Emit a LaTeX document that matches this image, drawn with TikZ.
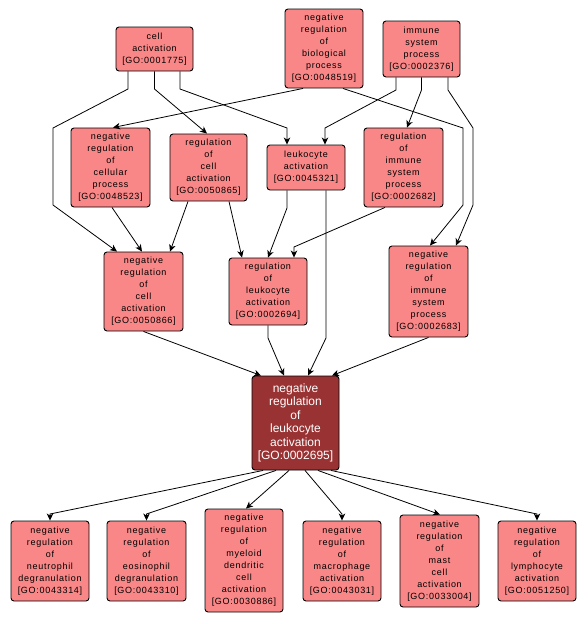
\documentclass[tikz,border=0pt]{standalone}
\usepackage{fontspec}
\setmainfont{Liberation Sans}
\newfontfamily\gofont[LetterSpace=8]{Liberation Sans}
\usetikzlibrary{arrows.meta}
\definecolor{gofill}{RGB}{250,135,135}
\definecolor{gomain}{RGB}{153,51,51}
\begin{document}
\begin{tikzpicture}[x=1pt,y=-1pt,
  gobox/.style={draw=black, line width=0.9pt, rounded corners=3pt, fill=gofill,
    align=center, inner sep=0pt, font=\gofont\fontsize{9}{12}\selectfont},
  mainbox/.style={gobox, fill=gomain, text=white, font=\fontsize{12}{13.5}\selectfont},
  sz/.style 2 args={minimum width=#1pt, minimum height=#2pt},
  goarrow/.style={draw, line width=0.8pt, -{Stealth[length=7pt,width=6.5pt,inset=2pt]}}]
\useasboundingbox (0,0) rectangle (587,624);
% top row
\node[gobox, sz={77}{44}] (ca) at (154.5,49) {cell\\activation\\{[}GO:0001775{]}};
\node[gobox, sz={78}{79}] (nbp) at (324,48.5) {negative\\regulation\\of\\biological\\process\\{[}GO:0048519{]}};
\node[gobox, sz={77}{56}] (isp) at (421.5,49) {immune\\system\\process\\{[}GO:0002376{]}};
% second row
\node[gobox, sz={79}{79}] (ncp) at (110.5,167.5) {negative\\regulation\\of\\cellular\\process\\{[}GO:0048523{]}};
\node[gobox, sz={77}{67}] (rca) at (208.5,167.5) {regulation\\of\\cell\\activation\\{[}GO:0050865{]}};
\node[gobox, sz={78}{45}] (la) at (306,167.5) {leukocyte\\activation\\{[}GO:0045321{]}};
\node[gobox, sz={79}{79}] (ris) at (403.5,167.5) {regulation\\of\\immune\\system\\process\\{[}GO:0002682{]}};
% third row
\node[gobox, sz={79}{79}] (nca) at (143.5,291.5) {negative\\regulation\\of\\cell\\activation\\{[}GO:0050866{]}};
\node[gobox, sz={78}{67}] (rla) at (268,291.5) {regulation\\of\\leukocyte\\activation\\{[}GO:0002694{]}};
\node[gobox, sz={79}{91}] (nis) at (428.5,291.5) {negative\\regulation\\of\\immune\\system\\process\\{[}GO:0002683{]}};
% main
\node[mainbox, sz={87}{94}] (main) at (295.5,423) {negative\\regulation\\of\\leukocyte\\activation\\{[}GO:0002695{]}};
% bottom row
\node[gobox, sz={78}{80}] (b1) at (50,561) {negative\\regulation\\of\\neutrophil\\degranulation\\{[}GO:0043314{]}};
\node[gobox, sz={79}{80}] (b2) at (146.5,561) {negative\\regulation\\of\\eosinophil\\degranulation\\{[}GO:0043310{]}};
\node[gobox, sz={78}{103}] (b3) at (244,560.5) {negative\\regulation\\of\\myeloid\\dendritic\\cell\\activation\\{[}GO:0030886{]}};
\node[gobox, sz={78}{80}] (b4) at (342,561) {negative\\regulation\\of\\macrophage\\activation\\{[}GO:0043031{]}};
\node[gobox, sz={79}{92}] (b5) at (439.5,561) {negative\\regulation\\of\\mast\\cell\\activation\\{[}GO:0033004{]}};
\node[gobox, sz={78}{80}] (b6) at (537,561) {negative\\regulation\\of\\lymphocyte\\activation\\{[}GO:0051250{]}};
% edges
\draw[goarrow] ([xshift=-26.5pt]ca.south) -- (128,89) -- (53,128) -- (53,205) -- ([xshift=-26.5pt]nca.north);
\draw[goarrow] (ca.south) -- (154.5,89) -- ([xshift=-1.5pt]rca.north);
\draw[goarrow] ([xshift=25.5pt]ca.south) -- (180,89) -- (287,128) -- ([xshift=-19pt]la.north);
\draw[goarrow] ([xshift=-21pt]nbp.south) -- ([xshift=2.5pt]ncp.north);
\draw[goarrow] ([xshift=19pt]nbp.south) -- (463,128) -- (463,205) -- ([xshift=1.5pt]nis.north);
\draw[goarrow] ([xshift=-25.5pt]isp.south) -- (396,90) -- (325,128) -- ([xshift=19pt]la.north);
\draw[goarrow] (isp.south) -- (421.5,90) -- ([xshift=3.5pt]ris.north);
\draw[goarrow] ([xshift=26.5pt]isp.south) -- (448,90) -- (473,128) -- (473,205) -- ([xshift=27.5pt]nis.north);
\draw[goarrow] ([xshift=1.5pt]ncp.south) -- ([xshift=-1.5pt]nca.north);
\draw[goarrow] ([xshift=-20.5pt]rca.south) -- ([xshift=26.5pt]nca.north);
\draw[goarrow] ([xshift=20.5pt]rca.south) -- ([xshift=-26pt]rla.north);
\draw[goarrow] ([xshift=-19pt]la.south) -- (287,208) -- (rla.north);
\draw[goarrow] ([xshift=-18.5pt]ris.south) -- (294,247) -- ([xshift=26pt]rla.north);
\draw[goarrow] ([xshift=20pt]la.south) -- (326,338) -- ([xshift=12.5pt]main.north);
\draw[goarrow] (nca.south) -- ([xshift=-34.5pt]main.north);
\draw[goarrow] (rla.south) -- (268,338) -- ([xshift=-11.5pt]main.north);
\draw[goarrow] (nis.south) -- ([xshift=36.5pt]main.north);
\draw[goarrow] ([xshift=-32.5pt]main.south) -- (50,514) -- (b1.north);
\draw[goarrow] ([xshift=-19.5pt]main.south) -- (146.5,514) -- (b2.north);
\draw[goarrow] ([xshift=-6.5pt]main.south) -- ([xshift=2pt]b3.north);
\draw[goarrow] ([xshift=9.5pt]main.south) -- (342,514) -- (b4.north);
\draw[goarrow] ([xshift=22.5pt]main.south) -- ([xshift=0.5pt]b5.north);
\draw[goarrow] ([xshift=35.5pt]main.south) -- (537,514) -- (b6.north);
\end{tikzpicture}
\end{document}
